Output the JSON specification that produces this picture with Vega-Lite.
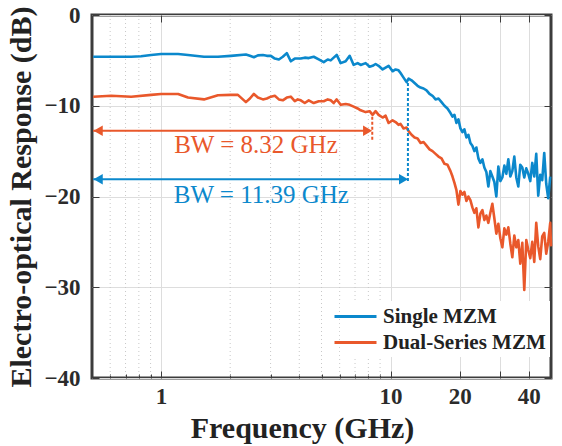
{
  "$schema": "https://vega.github.io/schema/vega-lite/v6.json",
  "width": 459,
  "height": 363,
  "autosize": "none",
  "padding": {"left": 92, "top": 15, "right": 11, "bottom": 68},
  "background": "white",
  "config": {
    "view": {"stroke": "#3c3c3c", "strokeWidth": 3},
    "font": "Liberation Serif",
    "axis": {
      "labelFont": "Liberation Serif",
      "labelFontWeight": "bold",
      "labelFontSize": 23,
      "labelColor": "#2b2b2b",
      "titleFont": "Liberation Serif",
      "titleFontWeight": "bold",
      "titleColor": "#222222",
      "domain": false,
      "tickColor": "#3c3c3c",
      "gridColor": "#dddddd",
      "gridWidth": 1
    }
  },
  "datasets": {
    "series": [
      {"f": 0.506, "db": -4.6, "s": "Single MZM"},
      {"f": 0.606, "db": -4.6, "s": "Single MZM"},
      {"f": 0.741, "db": -4.6, "s": "Single MZM"},
      {"f": 0.818, "db": -4.55, "s": "Single MZM"},
      {"f": 0.905, "db": -4.4, "s": "Single MZM"},
      {"f": 1.0, "db": -4.3, "s": "Single MZM"},
      {"f": 1.186, "db": -4.3, "s": "Single MZM"},
      {"f": 1.31, "db": -4.4, "s": "Single MZM"},
      {"f": 1.538, "db": -4.6, "s": "Single MZM"},
      {"f": 1.769, "db": -4.6, "s": "Single MZM"},
      {"f": 2.015, "db": -4.5, "s": "Single MZM"},
      {"f": 2.342, "db": -4.35, "s": "Single MZM"},
      {"f": 2.438, "db": -4.5, "s": "Single MZM"},
      {"f": 2.537, "db": -4.65, "s": "Single MZM"},
      {"f": 2.641, "db": -4.45, "s": "Single MZM"},
      {"f": 2.777, "db": -4.4, "s": "Single MZM"},
      {"f": 2.89, "db": -4.5, "s": "Single MZM"},
      {"f": 3.008, "db": -4.5, "s": "Single MZM"},
      {"f": 3.13, "db": -4.8, "s": "Single MZM"},
      {"f": 3.26, "db": -4.9, "s": "Single MZM"},
      {"f": 3.392, "db": -4.6, "s": "Single MZM"},
      {"f": 3.53, "db": -4.2, "s": "Single MZM"},
      {"f": 3.674, "db": -5.1, "s": "Single MZM"},
      {"f": 3.824, "db": -4.8, "s": "Single MZM"},
      {"f": 4.061, "db": -4.8, "s": "Single MZM"},
      {"f": 4.227, "db": -4.7, "s": "Single MZM"},
      {"f": 4.399, "db": -4.75, "s": "Single MZM"},
      {"f": 4.625, "db": -4.6, "s": "Single MZM"},
      {"f": 4.864, "db": -4.9, "s": "Single MZM"},
      {"f": 5.113, "db": -5.2, "s": "Single MZM"},
      {"f": 5.322, "db": -4.9, "s": "Single MZM"},
      {"f": 5.484, "db": -5.0, "s": "Single MZM"},
      {"f": 5.651, "db": -4.7, "s": "Single MZM"},
      {"f": 5.824, "db": -4.4, "s": "Single MZM"},
      {"f": 6.061, "db": -5.3, "s": "Single MZM"},
      {"f": 6.372, "db": -5.1, "s": "Single MZM"},
      {"f": 6.633, "db": -4.5, "s": "Single MZM"},
      {"f": 6.904, "db": -5.5, "s": "Single MZM"},
      {"f": 7.186, "db": -5.3, "s": "Single MZM"},
      {"f": 7.405, "db": -5.5, "s": "Single MZM"},
      {"f": 7.785, "db": -5.3, "s": "Single MZM"},
      {"f": 8.103, "db": -5.7, "s": "Single MZM"},
      {"f": 8.35, "db": -5.6, "s": "Single MZM"},
      {"f": 8.604, "db": -5.4, "s": "Single MZM"},
      {"f": 8.866, "db": -5.6, "s": "Single MZM"},
      {"f": 9.23, "db": -6.0, "s": "Single MZM"},
      {"f": 9.512, "db": -5.8, "s": "Single MZM"},
      {"f": 9.802, "db": -5.6, "s": "Single MZM"},
      {"f": 10.2, "db": -6.2, "s": "Single MZM"},
      {"f": 10.51, "db": -6.0, "s": "Single MZM"},
      {"f": 10.83, "db": -6.1, "s": "Single MZM"},
      {"f": 11.05, "db": -6.4, "s": "Single MZM"},
      {"f": 11.39, "db": -6.9, "s": "Single MZM"},
      {"f": 11.74, "db": -7.4, "s": "Single MZM"},
      {"f": 11.98, "db": -7.0, "s": "Single MZM"},
      {"f": 12.34, "db": -7.2, "s": "Single MZM"},
      {"f": 12.72, "db": -7.5, "s": "Single MZM"},
      {"f": 13.11, "db": -7.8, "s": "Single MZM"},
      {"f": 13.51, "db": -8.0, "s": "Single MZM"},
      {"f": 13.92, "db": -8.1, "s": "Single MZM"},
      {"f": 14.34, "db": -8.3, "s": "Single MZM"},
      {"f": 14.78, "db": -8.7, "s": "Single MZM"},
      {"f": 15.23, "db": -8.9, "s": "Single MZM"},
      {"f": 15.7, "db": -9.3, "s": "Single MZM"},
      {"f": 16.17, "db": -9.2, "s": "Single MZM"},
      {"f": 16.67, "db": -9.6, "s": "Single MZM"},
      {"f": 17.17, "db": -10.0, "s": "Single MZM"},
      {"f": 17.7, "db": -10.3, "s": "Single MZM"},
      {"f": 18.24, "db": -10.8, "s": "Single MZM"},
      {"f": 18.61, "db": -11.2, "s": "Single MZM"},
      {"f": 18.98, "db": -11.0, "s": "Single MZM"},
      {"f": 19.36, "db": -11.9, "s": "Single MZM"},
      {"f": 19.75, "db": -11.5, "s": "Single MZM"},
      {"f": 20.15, "db": -12.5, "s": "Single MZM"},
      {"f": 20.56, "db": -12.9, "s": "Single MZM"},
      {"f": 20.97, "db": -12.6, "s": "Single MZM"},
      {"f": 21.4, "db": -13.5, "s": "Single MZM"},
      {"f": 21.83, "db": -13.2, "s": "Single MZM"},
      {"f": 22.27, "db": -14.1, "s": "Single MZM"},
      {"f": 22.72, "db": -14.4, "s": "Single MZM"},
      {"f": 23.18, "db": -15.0, "s": "Single MZM"},
      {"f": 23.65, "db": -14.6, "s": "Single MZM"},
      {"f": 24.13, "db": -15.8, "s": "Single MZM"},
      {"f": 24.62, "db": -16.3, "s": "Single MZM"},
      {"f": 25.12, "db": -15.9, "s": "Single MZM"},
      {"f": 25.62, "db": -16.8, "s": "Single MZM"},
      {"f": 26.14, "db": -17.3, "s": "Single MZM"},
      {"f": 26.67, "db": -18.9, "s": "Single MZM"},
      {"f": 27.21, "db": -17.2, "s": "Single MZM"},
      {"f": 27.76, "db": -17.8, "s": "Single MZM"},
      {"f": 28.32, "db": -18.4, "s": "Single MZM"},
      {"f": 28.89, "db": -20.0, "s": "Single MZM"},
      {"f": 29.48, "db": -16.7, "s": "Single MZM"},
      {"f": 30.08, "db": -18.3, "s": "Single MZM"},
      {"f": 30.69, "db": -17.9, "s": "Single MZM"},
      {"f": 31.31, "db": -16.6, "s": "Single MZM"},
      {"f": 31.94, "db": -17.5, "s": "Single MZM"},
      {"f": 32.59, "db": -15.9, "s": "Single MZM"},
      {"f": 33.25, "db": -17.8, "s": "Single MZM"},
      {"f": 33.92, "db": -17.2, "s": "Single MZM"},
      {"f": 34.6, "db": -15.6, "s": "Single MZM"},
      {"f": 35.3, "db": -17.9, "s": "Single MZM"},
      {"f": 36.02, "db": -18.9, "s": "Single MZM"},
      {"f": 36.74, "db": -16.5, "s": "Single MZM"},
      {"f": 37.49, "db": -16.8, "s": "Single MZM"},
      {"f": 38.24, "db": -17.9, "s": "Single MZM"},
      {"f": 39.02, "db": -16.9, "s": "Single MZM"},
      {"f": 39.81, "db": -17.5, "s": "Single MZM"},
      {"f": 40.61, "db": -18.3, "s": "Single MZM"},
      {"f": 41.43, "db": -16.3, "s": "Single MZM"},
      {"f": 42.27, "db": -17.8, "s": "Single MZM"},
      {"f": 43.12, "db": -15.3, "s": "Single MZM"},
      {"f": 43.99, "db": -19.9, "s": "Single MZM"},
      {"f": 44.88, "db": -17.6, "s": "Single MZM"},
      {"f": 45.79, "db": -18.2, "s": "Single MZM"},
      {"f": 46.72, "db": -15.2, "s": "Single MZM"},
      {"f": 47.66, "db": -18.6, "s": "Single MZM"},
      {"f": 48.63, "db": -20.2, "s": "Single MZM"},
      {"f": 49.61, "db": -17.8, "s": "Single MZM"},
      {"f": 0.506, "db": -9.0, "s": "Dual-Series MZM"},
      {"f": 0.606, "db": -8.9, "s": "Dual-Series MZM"},
      {"f": 0.741, "db": -9.0, "s": "Dual-Series MZM"},
      {"f": 0.905, "db": -8.8, "s": "Dual-Series MZM"},
      {"f": 1.0, "db": -8.7, "s": "Dual-Series MZM"},
      {"f": 1.186, "db": -8.7, "s": "Dual-Series MZM"},
      {"f": 1.31, "db": -9.1, "s": "Dual-Series MZM"},
      {"f": 1.538, "db": -9.3, "s": "Dual-Series MZM"},
      {"f": 1.769, "db": -8.85, "s": "Dual-Series MZM"},
      {"f": 2.015, "db": -8.8, "s": "Dual-Series MZM"},
      {"f": 2.161, "db": -8.8, "s": "Dual-Series MZM"},
      {"f": 2.342, "db": -9.6, "s": "Dual-Series MZM"},
      {"f": 2.438, "db": -9.2, "s": "Dual-Series MZM"},
      {"f": 2.537, "db": -8.7, "s": "Dual-Series MZM"},
      {"f": 2.641, "db": -9.1, "s": "Dual-Series MZM"},
      {"f": 2.777, "db": -9.3, "s": "Dual-Series MZM"},
      {"f": 2.89, "db": -9.2, "s": "Dual-Series MZM"},
      {"f": 3.008, "db": -9.0, "s": "Dual-Series MZM"},
      {"f": 3.13, "db": -8.9, "s": "Dual-Series MZM"},
      {"f": 3.26, "db": -9.3, "s": "Dual-Series MZM"},
      {"f": 3.392, "db": -9.4, "s": "Dual-Series MZM"},
      {"f": 3.53, "db": -9.1, "s": "Dual-Series MZM"},
      {"f": 3.674, "db": -9.0, "s": "Dual-Series MZM"},
      {"f": 3.824, "db": -9.5, "s": "Dual-Series MZM"},
      {"f": 3.941, "db": -9.3, "s": "Dual-Series MZM"},
      {"f": 4.061, "db": -9.4, "s": "Dual-Series MZM"},
      {"f": 4.227, "db": -9.7, "s": "Dual-Series MZM"},
      {"f": 4.399, "db": -9.4, "s": "Dual-Series MZM"},
      {"f": 4.625, "db": -9.7, "s": "Dual-Series MZM"},
      {"f": 4.864, "db": -9.5, "s": "Dual-Series MZM"},
      {"f": 5.113, "db": -9.5, "s": "Dual-Series MZM"},
      {"f": 5.322, "db": -9.3, "s": "Dual-Series MZM"},
      {"f": 5.484, "db": -9.4, "s": "Dual-Series MZM"},
      {"f": 5.651, "db": -9.7, "s": "Dual-Series MZM"},
      {"f": 5.824, "db": -9.3, "s": "Dual-Series MZM"},
      {"f": 6.061, "db": -9.9, "s": "Dual-Series MZM"},
      {"f": 6.372, "db": -9.8, "s": "Dual-Series MZM"},
      {"f": 6.633, "db": -9.9, "s": "Dual-Series MZM"},
      {"f": 6.904, "db": -10.1, "s": "Dual-Series MZM"},
      {"f": 7.186, "db": -10.3, "s": "Dual-Series MZM"},
      {"f": 7.405, "db": -10.5, "s": "Dual-Series MZM"},
      {"f": 7.785, "db": -10.7, "s": "Dual-Series MZM"},
      {"f": 8.103, "db": -10.6, "s": "Dual-Series MZM"},
      {"f": 8.35, "db": -11.0, "s": "Dual-Series MZM"},
      {"f": 8.604, "db": -10.6, "s": "Dual-Series MZM"},
      {"f": 8.866, "db": -11.0, "s": "Dual-Series MZM"},
      {"f": 9.23, "db": -11.3, "s": "Dual-Series MZM"},
      {"f": 9.512, "db": -11.1, "s": "Dual-Series MZM"},
      {"f": 9.802, "db": -11.9, "s": "Dual-Series MZM"},
      {"f": 10.2, "db": -11.6, "s": "Dual-Series MZM"},
      {"f": 10.51, "db": -11.8, "s": "Dual-Series MZM"},
      {"f": 10.83, "db": -12.1, "s": "Dual-Series MZM"},
      {"f": 11.05, "db": -12.0, "s": "Dual-Series MZM"},
      {"f": 11.39, "db": -12.5, "s": "Dual-Series MZM"},
      {"f": 11.74, "db": -12.4, "s": "Dual-Series MZM"},
      {"f": 11.98, "db": -12.8, "s": "Dual-Series MZM"},
      {"f": 12.34, "db": -13.2, "s": "Dual-Series MZM"},
      {"f": 12.72, "db": -13.5, "s": "Dual-Series MZM"},
      {"f": 13.11, "db": -13.6, "s": "Dual-Series MZM"},
      {"f": 13.51, "db": -14.1, "s": "Dual-Series MZM"},
      {"f": 13.92, "db": -14.0, "s": "Dual-Series MZM"},
      {"f": 14.34, "db": -14.4, "s": "Dual-Series MZM"},
      {"f": 14.78, "db": -14.8, "s": "Dual-Series MZM"},
      {"f": 15.23, "db": -15.0, "s": "Dual-Series MZM"},
      {"f": 15.7, "db": -15.3, "s": "Dual-Series MZM"},
      {"f": 16.17, "db": -15.6, "s": "Dual-Series MZM"},
      {"f": 16.67, "db": -15.8, "s": "Dual-Series MZM"},
      {"f": 17.17, "db": -16.4, "s": "Dual-Series MZM"},
      {"f": 17.7, "db": -16.5, "s": "Dual-Series MZM"},
      {"f": 18.24, "db": -17.2, "s": "Dual-Series MZM"},
      {"f": 18.61, "db": -17.8, "s": "Dual-Series MZM"},
      {"f": 18.98, "db": -18.5, "s": "Dual-Series MZM"},
      {"f": 19.36, "db": -19.3, "s": "Dual-Series MZM"},
      {"f": 19.75, "db": -20.9, "s": "Dual-Series MZM"},
      {"f": 20.15, "db": -19.4, "s": "Dual-Series MZM"},
      {"f": 20.56, "db": -19.8, "s": "Dual-Series MZM"},
      {"f": 20.97, "db": -19.5, "s": "Dual-Series MZM"},
      {"f": 21.4, "db": -20.5, "s": "Dual-Series MZM"},
      {"f": 21.83, "db": -20.0, "s": "Dual-Series MZM"},
      {"f": 22.27, "db": -20.4, "s": "Dual-Series MZM"},
      {"f": 22.72, "db": -21.2, "s": "Dual-Series MZM"},
      {"f": 23.18, "db": -21.8, "s": "Dual-Series MZM"},
      {"f": 23.65, "db": -21.3, "s": "Dual-Series MZM"},
      {"f": 24.13, "db": -23.4, "s": "Dual-Series MZM"},
      {"f": 24.62, "db": -21.9, "s": "Dual-Series MZM"},
      {"f": 25.12, "db": -21.5, "s": "Dual-Series MZM"},
      {"f": 25.62, "db": -22.6, "s": "Dual-Series MZM"},
      {"f": 26.14, "db": -22.1, "s": "Dual-Series MZM"},
      {"f": 26.67, "db": -22.9, "s": "Dual-Series MZM"},
      {"f": 27.21, "db": -21.8, "s": "Dual-Series MZM"},
      {"f": 27.76, "db": -20.8, "s": "Dual-Series MZM"},
      {"f": 28.32, "db": -22.4, "s": "Dual-Series MZM"},
      {"f": 28.89, "db": -24.1, "s": "Dual-Series MZM"},
      {"f": 29.48, "db": -23.0, "s": "Dual-Series MZM"},
      {"f": 30.08, "db": -24.6, "s": "Dual-Series MZM"},
      {"f": 30.69, "db": -25.6, "s": "Dual-Series MZM"},
      {"f": 31.31, "db": -23.5, "s": "Dual-Series MZM"},
      {"f": 31.94, "db": -24.2, "s": "Dual-Series MZM"},
      {"f": 32.59, "db": -23.4, "s": "Dual-Series MZM"},
      {"f": 33.25, "db": -25.2, "s": "Dual-Series MZM"},
      {"f": 33.92, "db": -26.7, "s": "Dual-Series MZM"},
      {"f": 34.6, "db": -24.3, "s": "Dual-Series MZM"},
      {"f": 35.3, "db": -25.6, "s": "Dual-Series MZM"},
      {"f": 36.02, "db": -24.8, "s": "Dual-Series MZM"},
      {"f": 36.74, "db": -27.4, "s": "Dual-Series MZM"},
      {"f": 37.49, "db": -25.1, "s": "Dual-Series MZM"},
      {"f": 38.24, "db": -30.3, "s": "Dual-Series MZM"},
      {"f": 39.02, "db": -24.8, "s": "Dual-Series MZM"},
      {"f": 39.81, "db": -25.9, "s": "Dual-Series MZM"},
      {"f": 40.61, "db": -26.8, "s": "Dual-Series MZM"},
      {"f": 41.43, "db": -25.0, "s": "Dual-Series MZM"},
      {"f": 42.27, "db": -27.2, "s": "Dual-Series MZM"},
      {"f": 43.12, "db": -22.9, "s": "Dual-Series MZM"},
      {"f": 43.99, "db": -25.5, "s": "Dual-Series MZM"},
      {"f": 44.88, "db": -26.9, "s": "Dual-Series MZM"},
      {"f": 45.79, "db": -24.4, "s": "Dual-Series MZM"},
      {"f": 46.72, "db": -24.0, "s": "Dual-Series MZM"},
      {"f": 47.66, "db": -26.3, "s": "Dual-Series MZM"},
      {"f": 48.63, "db": -25.0, "s": "Dual-Series MZM"},
      {"f": 49.61, "db": -22.9, "s": "Dual-Series MZM"},
      {"f": 50.0, "db": -25.5, "s": "Dual-Series MZM"}
    ],
    "minor": [
      {"f": 0.6}, {"f": 0.7}, {"f": 0.8}, {"f": 0.9},
      {"f": 2}, {"f": 3}, {"f": 4}, {"f": 5}, {"f": 6}, {"f": 7}, {"f": 8}, {"f": 9}
    ],
    "arrows": [
      {"f1": 0.506, "f2": 7.94, "db": -12.75, "s": "Dual-Series MZM"},
      {"f1": 0.506, "f2": 11.39, "db": -18.1, "s": "Single MZM"}
    ],
    "heads": [
      {"f": 0.532, "db": -12.75, "s": "Dual-Series MZM", "dir": "triangle-left"},
      {"f": 7.94, "db": -12.75, "s": "Dual-Series MZM", "dir": "triangle-right"},
      {"f": 0.532, "db": -18.1, "s": "Single MZM", "dir": "triangle-left"},
      {"f": 11.39, "db": -18.1, "s": "Single MZM", "dir": "triangle-right"}
    ],
    "vlines": [
      {"f": 8.32, "y1": -11.2, "y2": -13.8, "s": "Dual-Series MZM"},
      {"f": 11.9, "y1": -7.5, "y2": -18.4, "s": "Single MZM"}
    ],
    "labels": [
      {"f": 2.59, "db": -15.2, "t": "BW = 8.32 GHz", "s": "Dual-Series MZM"},
      {"f": 2.735, "db": -20.7, "t": "BW = 11.39 GHz", "s": "Single MZM"}
    ]
  },
  "resolve": {"axis": {"x": "independent", "y": "independent"}},
  "layer": [
    {
      "data": {"name": "minor"},
      "mark": {"type": "rule", "color": "#c8c8c8", "strokeDash": [1, 3], "strokeWidth": 1},
      "encoding": {
        "x": {"field": "f", "type": "quantitative",
          "scale": {"type": "log", "domain": [0.5, 50]},
          "axis": {"orient": "bottom", "values": [0.6, 0.7, 0.8, 0.9, 2, 3, 4, 5, 6, 7, 8, 9], "labels": false, "grid": false, "tickSize": -4, "title": null}}
      }
    },
    {
      "data": {"name": "series"},
      "mark": {"type": "line", "strokeWidth": 2.6, "strokeJoin": "round"},
      "encoding": {
        "x": {"field": "f", "type": "quantitative",
          "scale": {"type": "log", "domain": [0.5, 50]},
          "axis": {"orient": "bottom", "values": [1, 10, 20, 30, 40], "labelExpr": "datum.value == 30 ? '' : datum.label", "grid": true, "tickSize": -7, "labelPadding": 14, "title": "Frequency (GHz)", "titleFontSize": 30, "titleX": 210, "titleY": 59, "titleBaseline": "alphabetic", "titleAlign": "center"}},
        "y": {"field": "db", "type": "quantitative",
          "scale": {"domain": [-40, 0]},
          "axis": {"orient": "left", "values": [-40, -30, -20, -10, 0], "grid": true, "tickSize": -7, "labelPadding": 19, "title": "Electro-optical Response (dB)", "titleFontSize": 30, "titlePadding": 7}},
        "color": {"field": "s", "type": "nominal",
          "scale": {"domain": ["Single MZM", "Dual-Series MZM"], "range": ["#0b88cc", "#e9582b"]},
          "legend": {"title": null, "orient": "none", "legendX": 248, "legendY": 286,
            "symbolType": "M-2.1,0H2.1", "symbolSize": 400, "symbolStrokeWidth": 3,
            "labelFont": "Liberation Serif", "labelFontWeight": "bold", "labelFontSize": 21,
            "labelColor": "#222222", "labelOffset": 16, "labelLimit": 400, "rowPadding": 4,
            "fillColor": "white", "padding": 4}},
        "detail": {"field": "s"}
      }
    },
    {
      "data": {"name": "arrows"},
      "mark": {"type": "rule", "strokeWidth": 2},
      "encoding": {
        "x": {"field": "f1", "type": "quantitative", "scale": {"type": "log", "domain": [0.5, 50]},
          "axis": {"orient": "top", "values": [1, 10, 20, 30, 40], "labels": false, "grid": false, "tickSize": -7, "title": null}},
        "x2": {"field": "f2"},
        "y": {"field": "db", "type": "quantitative", "scale": {"domain": [-40, 0]},
          "axis": {"orient": "right", "values": [-40, -30, -20, -10, 0], "labels": false, "grid": false, "tickSize": -7, "title": null}},
        "color": {"field": "s", "type": "nominal", "legend": null}
      }
    },
    {
      "data": {"name": "heads"},
      "mark": {"type": "point", "filled": true, "opacity": 1, "size": 110},
      "encoding": {
        "x": {"field": "f", "type": "quantitative", "scale": {"type": "log", "domain": [0.5, 50]}, "axis": null},
        "y": {"field": "db", "type": "quantitative", "scale": {"domain": [-40, 0]}, "axis": null},
        "shape": {"field": "dir", "type": "nominal", "scale": null, "legend": null},
        "color": {"field": "s", "type": "nominal", "legend": null}
      }
    },
    {
      "data": {"name": "vlines"},
      "mark": {"type": "rule", "strokeWidth": 2, "strokeDash": [3, 2]},
      "encoding": {
        "x": {"field": "f", "type": "quantitative", "scale": {"type": "log", "domain": [0.5, 50]}, "axis": null},
        "y": {"field": "y1", "type": "quantitative", "scale": {"domain": [-40, 0]}, "axis": null},
        "y2": {"field": "y2"},
        "color": {"field": "s", "type": "nominal", "legend": null}
      }
    },
    {
      "data": {"name": "labels"},
      "mark": {"type": "text", "font": "Liberation Serif", "fontSize": 25, "align": "center", "baseline": "alphabetic"},
      "encoding": {
        "x": {"field": "f", "type": "quantitative", "scale": {"type": "log", "domain": [0.5, 50]}, "axis": null},
        "y": {"field": "db", "type": "quantitative", "scale": {"domain": [-40, 0]}, "axis": null},
        "text": {"field": "t"},
        "color": {"field": "s", "type": "nominal", "legend": null}
      }
    }
  ]
}
